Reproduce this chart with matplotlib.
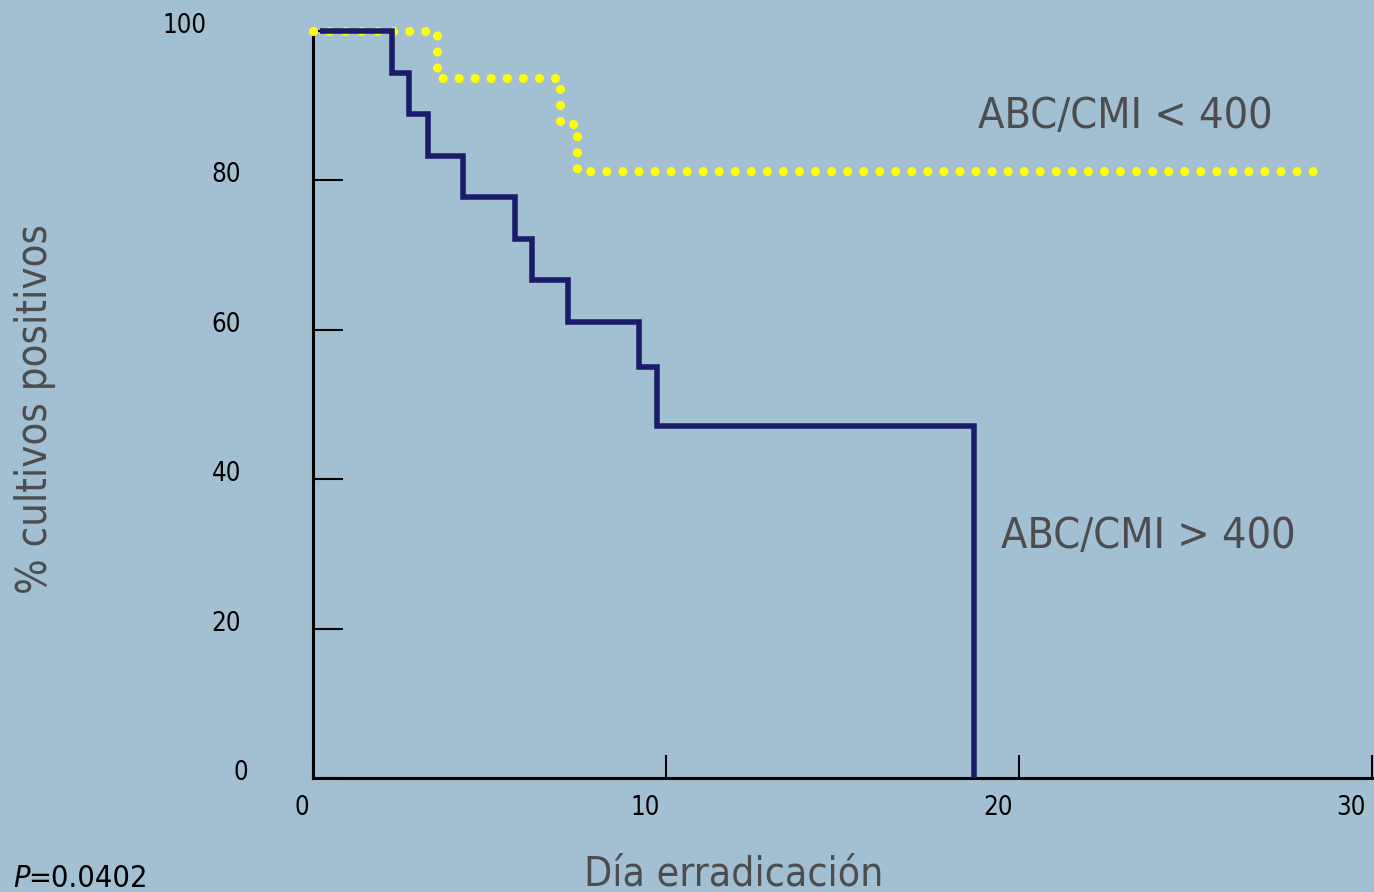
import matplotlib
matplotlib.use("Agg")
import matplotlib.pyplot as plt
from matplotlib.transforms import ScaledTranslation

# ---- data ----
high_days = [0.2, 2.25, 2.73, 3.25, 4.24, 5.72, 6.2, 7.22, 9.24, 9.75, 18.73, 18.73]
high_pct = [100, 94.4, 88.9, 83.3, 77.8, 72.2, 66.7, 61.1, 55.0, 47.1, 47.1, 0]

low_days = [0, 3.5, 7.0, 7.48, 28.72]
low_pct = [100, 93.75, 87.5, 81.25, 81.25]

x_ticks = [0, 10, 20, 30]
x_ticklabels = ["0", "10", "20", "30"]
y_ticks = [0, 20, 40, 60, 80, 100]
y_ticklabels = ["0", "20", "40", "60", "80", "100"]

label_low = "ABC/CMI < 400"
label_high = "ABC/CMI > 400"
x_title = "Día erradicación"
y_title = "% cultivos positivos"
p_prefix = "P"
p_value = "=0.0402"

BG = "#A3BFD2"
NAVY = "#1C1B6B"
YELLOW = "#FFFF00"
GRAY = "#4D4D4D"
FAM = "DejaVu Sans"
ST = "condensed"

plt.rcParams["font.family"] = FAM
plt.rcParams["font.stretch"] = ST

fig = plt.figure(figsize=(13.74, 8.92), dpi=100, facecolor=BG)
W, H = 1374, 892
x0, x1, y0, y1 = 313, 1372, 778, 31
ax = fig.add_axes([x0 / W, 1 - y0 / H, (x1 - x0) / W, (y0 - y1) / H])
ax.set_facecolor(BG)
ax.set_xlim(0, 30)
ax.set_ylim(0, 100)

# curves
ax.plot(low_days, low_pct, drawstyle="steps-post", color=YELLOW, lw=6.6,
        linestyle=(0, (0.001, 1.75)), dash_capstyle="round", clip_on=False, zorder=3)
ax.plot(high_days, high_pct, drawstyle="steps-post", color=NAVY, lw=4.0,
        solid_joinstyle="miter", solid_capstyle="butt", clip_on=False, zorder=4)

# spines
for s in ["top", "right"]:
    ax.spines[s].set_visible(False)
for s in ["left", "bottom"]:
    ax.spines[s].set_linewidth(2.2)
    ax.spines[s].set_color("black")

ax.set_xticks(x_ticks)
ax.set_xticklabels(x_ticklabels)
ax.set_yticks(y_ticks)
ax.set_yticklabels(y_ticklabels)
ax.tick_params(axis="y", direction="in", length=21.6, width=1.5, color="black",
               pad=52, labelsize=18.5, labelcolor="black")
ax.tick_params(axis="x", direction="in", length=16.6, width=1.5, color="black",
               pad=12, labelsize=18.5, labelcolor="black")

def shift(lbl, dx_px, dy_px):
    lbl.set_transform(lbl.get_transform() +
                      ScaledTranslation(dx_px * 0.72 / 72, dy_px * 0.72 / 72, fig.dpi_scale_trans))

for lbl, t in zip(ax.get_yticklabels(), y_ticklabels):
    dx = 0
    if t == "0":
        dx = 7
    elif t == "100":
        dx = -34
    shift(lbl, dx, 8)
for lbl, t in zip(ax.get_xticklabels(), x_ticklabels):
    shift(lbl, -11 if t == "0" else -21, 0)

# axis titles
ax.set_xlabel(x_title, fontsize=29.3, color=GRAY, va="baseline", ha="center")
ax.xaxis.set_label_coords((734 - x0) / (x1 - x0), (y0 - 885) / (y0 - y1))
ax.set_ylabel(y_title, fontsize=30, color=GRAY, va="center", ha="center")
ax.yaxis.set_label_coords((35 - x0) / (x1 - x0), (y0 - 409) / (y0 - y1))

# series annotations
ax.text(18.84, 87.0, label_low, fontsize=31, color=GRAY, ha="left", va="baseline")
ax.text(19.49, 30.8, label_high, fontsize=31, color=GRAY, ha="left", va="baseline")

# p-value
fig.text(13 / W, 1 - 887 / H, p_prefix, fontsize=22, style="italic", color="black",
         ha="left", va="baseline")
fig.text(28 / W, 1 - 887 / H, p_value, fontsize=22, color="black", ha="left", va="baseline")

fig.savefig("out.png", dpi=100, facecolor=BG)
